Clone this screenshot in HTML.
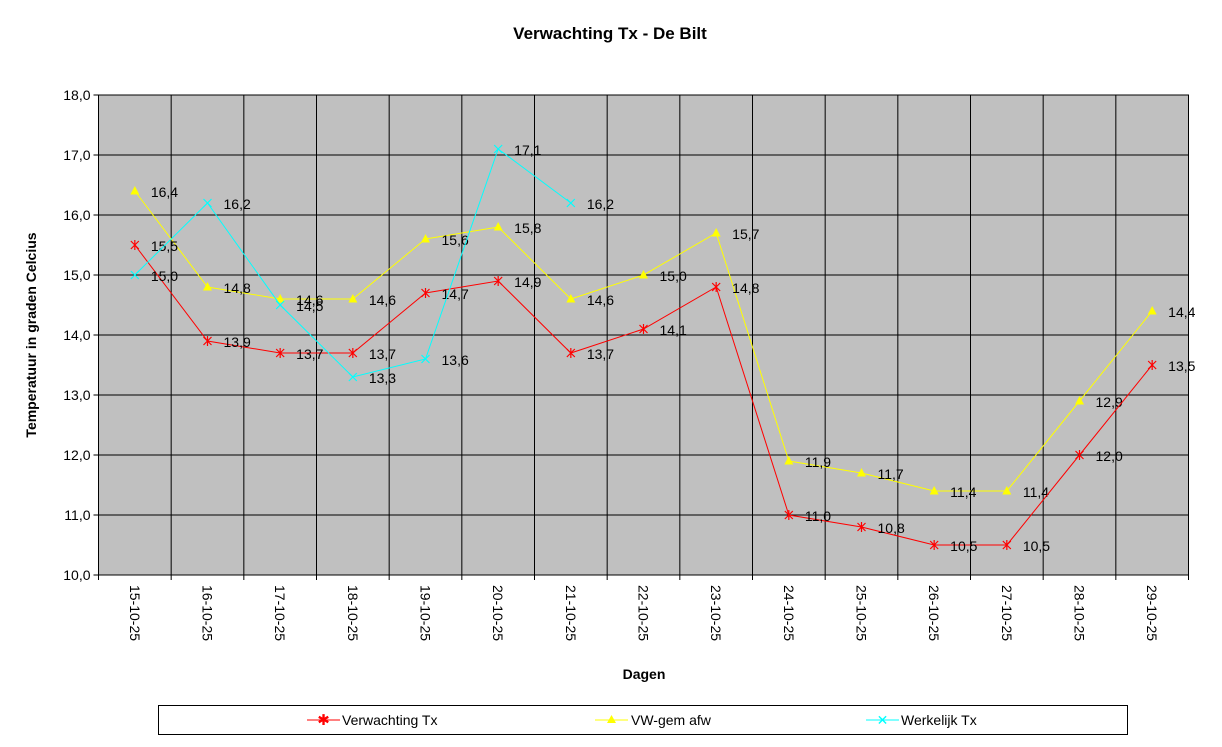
<!DOCTYPE html>
<html><head><meta charset="utf-8"><style>
body{margin:0;background:#fff;font-family:"Liberation Sans",Arial,sans-serif;}
svg{display:block}
</style></head><body>
<svg width="1222" height="747" xmlns="http://www.w3.org/2000/svg" font-family="Liberation Sans, Arial, sans-serif">
<text x="610" y="39" text-anchor="middle" font-size="17" font-weight="bold">Verwachting Tx - De Bilt</text>
<rect x="98.5" y="95" width="1090" height="480" fill="#c0c0c0" stroke="#000"/>
<g id="grid"></g><g id="axes"></g><g id="series"></g>
<text transform="translate(36,335) rotate(-90)" text-anchor="middle" font-size="14" font-weight="bold">Temperatuur in graden Celcius</text>
<text x="644" y="679" text-anchor="middle" font-size="14" font-weight="bold">Dagen</text>
<g>
<rect x="158.5" y="705.5" width="969" height="29" fill="#fff" stroke="#000"/>
<g>
<line x1="307" y1="720" x2="340" y2="720" stroke="#f00"/>
<text x="323.5" y="725" text-anchor="middle" fill="#f00" font-size="15">✱</text>
<text x="342" y="725" font-size="14">Verwachting Tx</text></g>
<g>
<line x1="595" y1="720" x2="628" y2="720" stroke="#ff0"/>
<polygon points="611.5,715 616,723 607,723" fill="#ff0"/>
<text x="631" y="725" font-size="14">VW-gem afw</text></g>
<g>
<line x1="866" y1="720" x2="899" y2="720" stroke="#0ff"/>
<text x="882.5" y="725" text-anchor="middle" fill="#0ff" font-size="14">✕</text>
<text x="901" y="725" font-size="14">Werkelijk Tx</text></g>
</g>
</svg>
<script>
const categories=["15-10-25","16-10-25","17-10-25","18-10-25","19-10-25","20-10-25","21-10-25","22-10-25","23-10-25","24-10-25","25-10-25","26-10-25","27-10-25","28-10-25","29-10-25"];
const verwachting=[15.5,13.9,13.7,13.7,14.7,14.9,13.7,14.1,14.8,11.0,10.8,10.5,10.5,12.0,13.5];
const vwGem=[16.4,14.8,14.6,14.6,15.6,15.8,14.6,15.0,15.7,11.9,11.7,11.4,11.4,12.9,14.4];
const werkelijk=[15.0,16.2,14.5,13.3,13.6,17.1,16.2];
const yTicks=[10,11,12,13,14,15,16,17,18];
const NS="http://www.w3.org/2000/svg";
const L=98.5,R=1188.5,T=95,B=575,ymin=10,ymax=18;
const cw=(R-L)/categories.length;
const xS=i=>L+cw*(i+0.5);
const yS=v=>B-(v-ymin)/(ymax-ymin)*(B-T);
function mk(tag,attrs,parent){const e=document.createElementNS(NS,tag);for(const k in attrs)e.setAttribute(k,attrs[k]);parent.appendChild(e);return e;}
const grid=document.getElementById('grid'),axes=document.getElementById('axes'),ser=document.getElementById('series');
const fmt=v=>v.toFixed(1).replace('.',',');
yTicks.forEach(v=>{const y=yS(v);
const g=mk('line',{x1:L,x2:R,y1:y,y2:y,stroke:'#000'},grid);


mk('line',{x1:L-5,x2:L,y1:y,y2:y,stroke:'#000'},axes);
const t=mk('text',{x:L-8,y:y+5,'text-anchor':'end','font-size':14},axes);t.textContent=fmt(v);

});
categories.forEach((c,i)=>{const x=L+cw*(i+1);
if(i<categories.length-1){const g=mk('line',{x1:x,x2:x,y1:T,y2:B,stroke:'#000'},grid);

}
mk('line',{x1:L+cw*i,x2:L+cw*i,y1:B,y2:B+5,stroke:'#000'},axes);
const t=mk('text',{transform:`translate(${xS(i)-5},585) rotate(90)`,'font-size':14},axes);t.textContent=c;

});
mk('line',{x1:R,x2:R,y1:B,y2:B+5,stroke:'#000'},axes);
function series(data,color,marker,name){
const g=mk('g',{},ser);


mk('polyline',{points:data.map((v,i)=>xS(i)+','+yS(v)).join(' '),fill:'none',stroke:color,'stroke-width':1},g);
data.forEach((v,i)=>{const x=xS(i),y=yS(v);let m;
if(marker==='tri')m=mk('polygon',{points:`${x},${y-5} ${x+4.5},${y+3.5} ${x-4.5},${y+3.5}`,fill:color},g);
else if(marker==='x')m=mk('path',{d:`M${x-4},${y-4}L${x+4},${y+4}M${x-4},${y+4}L${x+4},${y-4}`,stroke:color,'stroke-width':1.2},g);
else m=mk('path',{d:`M${x-4},${y-4}L${x+4},${y+4}M${x-4},${y+4}L${x+4},${y-4}M${x},${y-5}L${x},${y+5}`,stroke:color,'stroke-width':1.2},g);


const t=mk('text',{x:x+16,y:y+6,'font-size':14},g);t.textContent=fmt(v);

});}
series(vwGem,'#ff0','tri','series-vw-gem');
series(verwachting,'#f00','star','series-verwachting');
series(werkelijk,'#0ff','x','series-werkelijk');
</script>
</body></html>
